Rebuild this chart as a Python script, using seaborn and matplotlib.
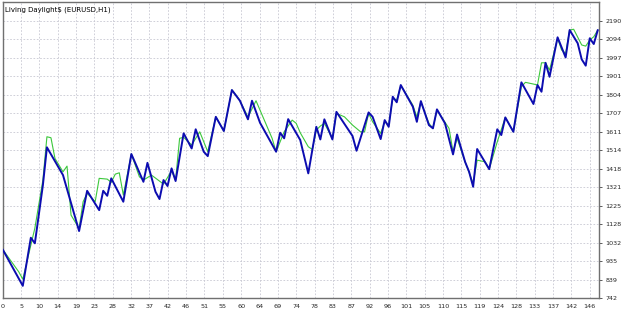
import matplotlib
matplotlib.use("Agg")
import matplotlib.pyplot as plt
import seaborn as sns
import pandas as pd

# ---- data (bar index, price-like value) ----
blue_x = [0, 5, 7, 8, 10, 11, 15, 19, 21, 24, 25, 26, 27, 30, 32, 35, 36, 38, 39, 40,
          41, 42, 43, 45, 47, 48, 50, 51, 53, 55, 57, 59, 61, 62, 64, 68, 69, 70, 71, 74,
          76, 78, 79, 80, 82, 83, 87, 88, 91, 92, 94, 95, 96, 97, 98, 99, 102, 103, 104, 106,
          107, 108, 110, 112, 113, 115, 116, 117, 118, 121, 123, 124, 125, 127, 129, 132, 133, 134, 135, 136,
          138, 140, 141, 143, 144, 145, 146, 147, 148]
blue_y = [996, 806, 1057, 1028, 1332, 1529, 1384, 1092, 1302, 1201, 1302, 1276, 1367, 1245, 1494, 1349, 1448, 1297, 1259, 1358,
          1327, 1419, 1353, 1602, 1523, 1623, 1506, 1483, 1688, 1614, 1828, 1772, 1675, 1772, 1657, 1506, 1605, 1576, 1676, 1567,
          1393, 1636, 1570, 1675, 1570, 1714, 1588, 1511, 1711, 1688, 1572, 1671, 1636, 1793, 1764, 1854, 1741, 1662, 1770, 1645,
          1628, 1727, 1654, 1492, 1596, 1453, 1401, 1323, 1520, 1415, 1623, 1593, 1685, 1610, 1868, 1755, 1854, 1819, 1970, 1897,
          2103, 1998, 2141, 2072, 1988, 1955, 2098, 2068, 2141]

green_x = [0, 4, 5, 8, 10, 11, 12, 13, 15, 16, 17, 19, 20, 21, 23, 24, 26, 27, 28, 29,
           30, 32, 34, 35, 37, 40, 42, 43, 44, 45, 47, 49, 50, 51, 53, 55, 57, 58, 59, 61,
           63, 67, 68, 70, 72, 73, 74, 76, 77, 78, 79, 80, 82, 83, 85, 87, 89, 90, 91, 92,
           94, 95, 96, 97, 98, 99, 100, 102, 103, 104, 106, 107, 108, 111, 112, 113, 115, 117, 118, 120,
           121, 123, 125, 127, 129, 130, 132, 133, 134, 135, 136, 138, 139, 140, 141, 142, 144, 145, 146, 147,
           148]
green_y = [996, 879, 841, 1107, 1358, 1584, 1579, 1471, 1401, 1431, 1175, 1106, 1245, 1289, 1245, 1367, 1363, 1346, 1389, 1396,
           1280, 1494, 1375, 1358, 1384, 1337, 1406, 1358, 1576, 1581, 1541, 1610, 1558, 1506, 1688, 1614, 1828, 1802, 1772, 1687,
           1772, 1576, 1506, 1610, 1671, 1654, 1605, 1532, 1518, 1619, 1640, 1654, 1576, 1706, 1688, 1645, 1610, 1610, 1706, 1662,
           1602, 1662, 1645, 1784, 1776, 1850, 1819, 1749, 1688, 1766, 1654, 1628, 1723, 1628, 1506, 1576, 1453, 1341, 1462, 1453,
           1415, 1558, 1685, 1610, 1845, 1868, 1859, 1854, 1970, 1970, 1932, 2098, 2037, 2019, 2141, 2145, 2063, 2057, 2089, 2106,
           2141]

x_tick_labels = ["0", "5", "10", "14", "19", "23", "28", "32", "37", "42", "46", "51", "55", "60", "64", "69",
                 "74", "78", "83", "87", "92", "96", "101", "105", "110", "115", "119", "124", "128", "133", "137", "142", "146"]
y_tick_values = [742, 839, 935, 1032, 1128, 1225, 1321, 1418, 1514, 1611, 1707, 1804, 1901, 1997, 2094, 2190]
title_text = "Living Daylight$ (EURUSD,H1)"

# ---- figure ----
sns.set_style("white")
plt.rcParams['font.family'] = ['DejaVu Sans']

fig = plt.figure(figsize=(6.25, 3.09), dpi=100)
ax = fig.add_axes([0.0043, 0.0346, 0.9541, 0.96])

df_b = pd.DataFrame({"bar": blue_x, "value": blue_y})
df_g = pd.DataFrame({"bar": green_x, "value": green_y})

sns.lineplot(data=df_g, x="bar", y="value", ax=ax, color="#3CC83C", linewidth=0.8, zorder=2)
sns.lineplot(data=df_b, x="bar", y="value", ax=ax, color="#0C0CB0", linewidth=1.4, zorder=3)

ax.set_xlim(0, 148.3)
ax.set_ylim(741, 2289)

n = len(x_tick_labels) - 1
xpos = [k * 146 / n for k in range(n + 1)]
ax.set_xticks(xpos)
ax.set_xticklabels(x_tick_labels, fontsize=4.6)
ax.set_yticks(y_tick_values)
ax.set_yticklabels([str(v) for v in y_tick_values], fontsize=4.6)
ax.yaxis.tick_right()
ax.tick_params(axis="y", length=2.5, width=0.6, color="#404040", pad=2)
ax.tick_params(axis="x", length=2.5, width=0.6, color="#404040", pad=1.5)

ax.grid(True, color="#C8C8D2", linestyle=(0, (2, 2)), linewidth=0.6)
ax.set_axisbelow(True)

for s in ax.spines.values():
    s.set_visible(True)
    s.set_color("#707070")
    s.set_linewidth(1.0)

ax.set_xlabel("")
ax.set_ylabel("")
ax.text(0.004, 0.985, title_text, transform=ax.transAxes, fontsize=5,
        ha="left", va="top", color="#000000")

fig.savefig("out.png", dpi=100)
